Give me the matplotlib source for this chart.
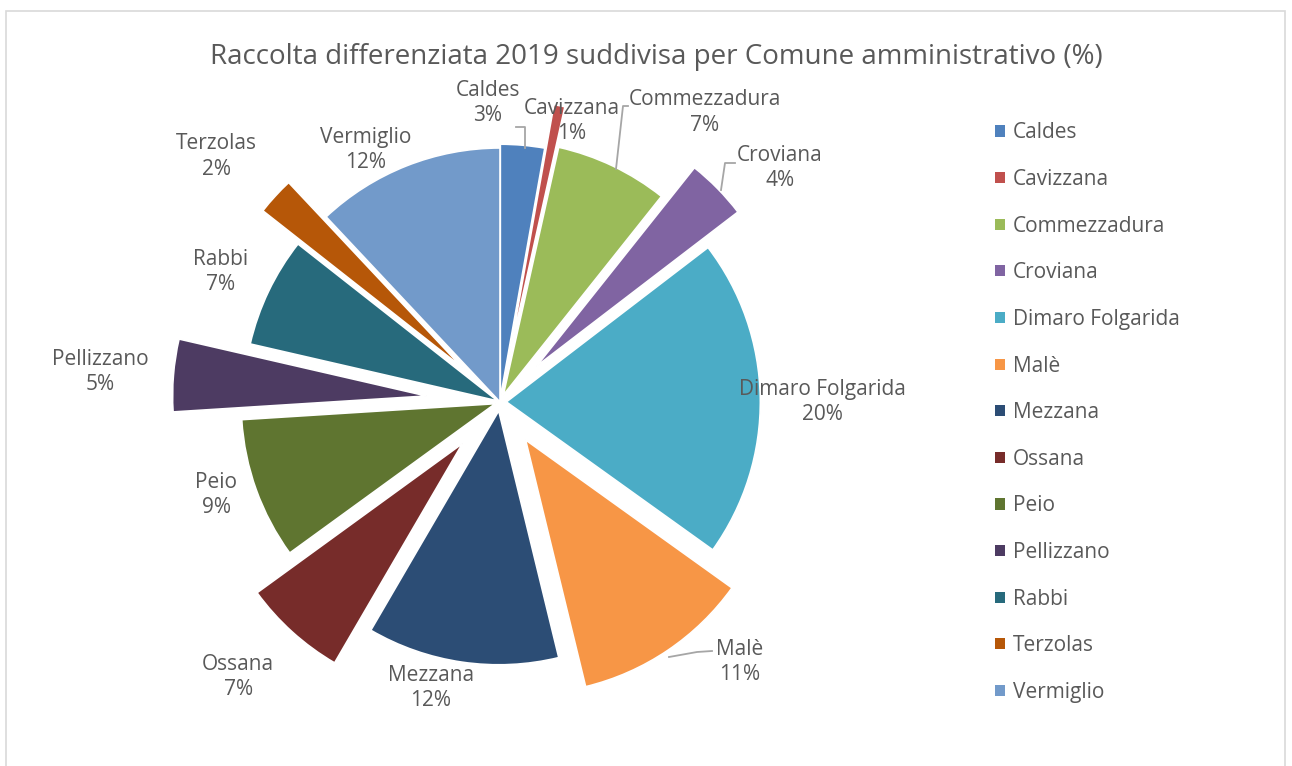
import numpy as np
import matplotlib.pyplot as plt
from matplotlib.patches import Patch, Rectangle

# Dati (% raccolta differenziata per comune)
comuni = ['Caldes', 'Cavizzana', 'Commezzadura', 'Croviana', 'Dimaro Folgarida',
          'Malè', 'Mezzana', 'Ossana', 'Peio', 'Pellizzano', 'Rabbi', 'Terzolas', 'Vermiglio']
valori = [2.8, 0.7, 7.2, 3.9, 20.3, 11.3, 12.2, 6.6, 9.0, 4.6, 7.0, 2.4, 12.0]
etichette_pct = ['3%', '1%', '7%', '4%', '20%', '11%', '12%', '7%', '9%', '5%', '7%', '2%', '12%']

colori = ['#4F81BD', '#C0504D', '#9BBB59', '#8064A2', '#4BACC6', '#F79646', '#2C4D75',
          '#772C2A', '#5F7530', '#4D3B62', '#276A7C', '#B65708', '#729ACA']
esplosione = [0.015, 0.19, 0.03, 0.2, 0.025, 0.18, 0.035, 0.22, 0.02, 0.29, 0.01, 0.2, 0.0]

# posizione etichette (unità di raggio, relative al centro della torta)
pos_etichette = [(-0.047, 1.177), (0.283, 1.106), (0.807, 1.14), (1.102, 0.921), (1.268, 0.0),
                 (0.945, -1.024), (-0.272, -1.126), (-1.031, -1.083), (-1.118, -0.366),
                 (-1.575, 0.118), (-1.102, 0.512), (-1.118, 0.965), (-0.528, 0.992)]

W, H = 1292, 766
cx, cy, R = 500, 402, 254  # centro e raggio in pixel
grigio = '#595959'

plt.rcParams['font.family'] = ['Open Sans', 'DejaVu Sans']

fig = plt.figure(figsize=(W / 100, H / 100), dpi=100)
ax = fig.add_axes([0, 0, 1, 1])

ax.pie(valori, colors=colori, explode=esplosione, startangle=90, counterclock=False,
       radius=1, wedgeprops=dict(edgecolor='white', linewidth=1.2))
ax.set_xlim(-cx / R, (W - cx) / R)
ax.set_ylim(-(H - cy) / R, cy / R)
ax.set_aspect('auto')
ax.axis('off')

for nome, pct, (x, y) in zip(comuni, etichette_pct, pos_etichette):
    ax.text(x, y, nome + '\n' + pct, ha='center', va='center', fontsize=15,
            color=grigio, linespacing=1.3)

# linee guida
def px(x, y):
    return (x - cx) / R, (cy - y) / R

guide = [
    [(516, 127), (525, 127), (525, 148)],
    [(616, 169), (623, 106), (628, 106)],
    [(721, 190), (725, 163), (735, 163)],
    [(669, 657), (697, 652), (712, 651)],
]
for g in guide:
    pts = np.array([px(*p) for p in g])
    ax.plot(pts[:, 0], pts[:, 1], color='#A6A6A6', lw=1.3)

fig.text(656 / W, 1 - 57 / H, 'Raccolta differenziata 2019 suddivisa per Comune amministrativo (%)',
         ha='center', va='center', fontsize=20, color=grigio)

handles = [Patch(facecolor=c, edgecolor='none') for c in colori]
fig.legend(handles, comuni, loc='upper left', bbox_to_anchor=(985 / W, 1 - 112 / H),
           frameon=False, fontsize=15, labelcolor=grigio, handlelength=0.45, handleheight=0.45,
           handletextpad=0.4, labelspacing=1.23, borderpad=0)

# bordo del grafico
fig.add_artist(Rectangle((6 / W, -0.05), 1279 / W, 1.05 - 11 / H, transform=fig.transFigure,
                         fill=False, edgecolor='#D9D9D9', lw=1.2))

fig.savefig('out.png', dpi=100)
